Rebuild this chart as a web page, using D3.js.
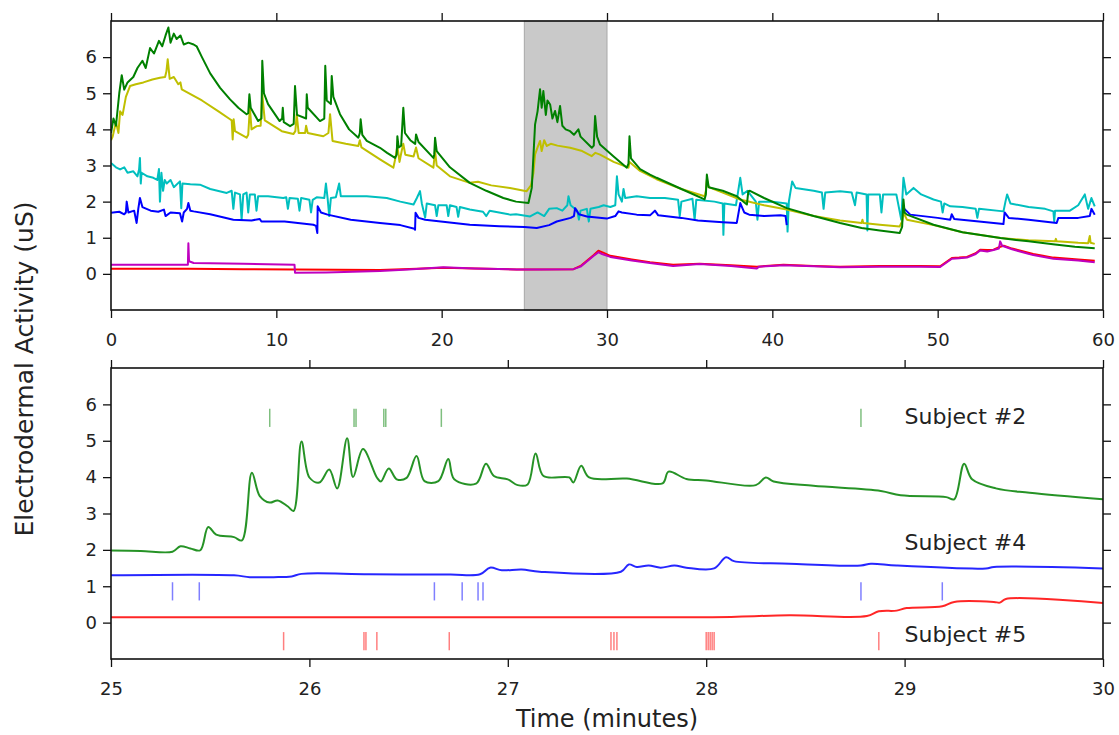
<!DOCTYPE html>
<html>

<head>
    <meta charset="utf-8">
    <title>Electrodermal Activity</title>
    <script src="https://d3js.org/d3.v7.min.js"></script>
    <style>
        body {
            margin: 0;
            background: #fff;
        }

        text {
            font-family: "DejaVu Sans", sans-serif;
            fill: #222;
        }
    </style>
</head>

<body>
    <div id="chart"></div>
    <script>
        // ---- data: [minutes, uS] ----
        const topGreen = [[0.0, 3.9], [0.15, 4.3], [0.3, 4.1], [0.5, 5.0], [0.65, 5.5], [0.8, 5.1], [1.0, 5.3], [1.35, 5.45], [1.6, 5.7], [1.9, 5.9], [2.1, 5.7], [2.36, 6.25], [2.6, 6.1], [2.9, 6.45], [3.1, 6.3], [3.3, 6.6], [3.47, 6.82], [3.6, 6.4], [3.8, 6.65], [3.97, 6.5], [4.2, 6.6], [4.4, 6.35], [4.68, 6.4], [5.0, 6.35], [5.18, 6.3], [5.5, 6.0], [6.0, 5.55], [6.6, 5.15], [7.2, 4.83], [7.7, 4.6], [8.2, 4.42], [8.3, 4.45], [8.37, 4.97], [8.45, 4.6], [8.9, 4.23], [9.1, 4.3], [9.15, 5.9], [9.25, 5.0], [9.5, 4.7], [10.2, 4.23], [10.35, 4.3], [10.39, 4.6], [10.45, 4.2], [10.83, 4.09], [11.05, 4.15], [11.13, 5.2], [11.25, 4.4], [11.8, 4.3], [11.84, 4.97], [11.9, 4.6], [12.64, 4.23], [12.9, 4.3], [12.96, 5.76], [13.05, 4.8], [13.3, 4.7], [13.35, 5.48], [13.45, 4.9], [13.85, 4.42], [14.4, 4.0], [14.96, 3.77], [15.05, 3.9], [15.1, 4.28], [15.2, 3.85], [15.47, 3.68], [16.27, 3.49], [16.7, 3.35], [17.18, 3.21], [17.28, 3.3], [17.32, 3.81], [17.4, 3.5], [17.55, 3.55], [17.68, 4.6], [17.78, 3.9], [18.1, 3.7], [18.4, 3.6], [18.45, 3.86], [18.6, 3.65], [19.5, 3.21], [19.55, 3.3], [19.6, 3.77], [19.7, 3.4], [20.5, 2.95], [21.7, 2.52], [22.7, 2.3], [23.73, 2.1], [24.5, 2.0], [25.25, 1.96], [25.45, 2.38], [25.65, 4.14], [25.8, 4.5], [25.95, 5.11], [26.05, 4.6], [26.15, 5.06], [26.3, 4.4], [26.4, 4.8], [26.56, 4.69], [26.7, 4.3], [26.86, 4.51], [27.0, 4.2], [27.16, 4.65], [27.3, 4.1], [27.5, 4.0], [27.77, 3.95], [28.0, 3.85], [28.27, 4.0], [28.4, 3.8], [29.08, 3.49], [29.2, 3.55], [29.28, 4.37], [29.4, 3.8], [29.58, 3.58], [30.4, 3.25], [31.2, 2.94], [31.3, 3.05], [31.36, 3.81], [31.45, 3.2], [32.0, 2.9], [32.6, 2.75], [33.0, 2.66], [34.5, 2.35], [35.9, 2.06], [35.98, 2.2], [36.04, 2.75], [36.15, 2.4], [37.0, 2.3], [37.85, 2.15], [38.46, 1.92], [38.55, 2.29], [38.65, 2.3], [39.5, 2.1], [40.87, 1.82], [42.5, 1.6], [44.1, 1.41], [45.4, 1.27], [46.5, 1.2], [47.7, 1.13], [47.85, 1.3], [47.93, 2.06], [48.0, 1.7], [48.14, 1.64], [49.75, 1.36], [51.5, 1.15], [53.8, 0.99], [55.5, 0.9], [57.1, 0.81], [58.3, 0.75], [59.5, 0.71]]

        const topYellow = [[0.0, 3.7], [0.1, 3.8], [0.3, 4.2], [0.45, 3.9], [0.55, 4.5], [0.7, 4.4], [0.9, 4.9], [1.15, 5.2], [1.5, 5.25], [1.96, 5.3], [2.5, 5.38], [2.96, 5.43], [3.27, 5.45], [3.35, 5.6], [3.43, 5.94], [3.55, 5.4], [3.8, 5.45], [4.07, 5.25], [4.2, 5.3], [4.28, 5.11], [5.5, 4.8], [6.5, 4.5], [7.2, 4.28], [7.3, 4.25], [7.36, 3.72], [7.42, 4.28], [7.5, 3.95], [8.2, 3.77], [8.3, 3.85], [8.4, 4.6], [8.5, 4.0], [8.81, 4.09], [9.05, 4.1], [9.15, 4.97], [9.3, 4.25], [10.33, 3.95], [11.03, 3.87], [11.15, 3.95], [11.23, 4.42], [11.35, 3.9], [11.74, 3.9], [11.8, 4.1], [11.9, 3.9], [12.84, 3.81], [13.15, 3.9], [13.25, 4.42], [13.4, 3.68], [14.2, 3.6], [14.96, 3.54], [15.05, 3.7], [15.15, 3.5], [16.27, 3.17], [17.08, 2.94], [17.2, 3.2], [17.32, 3.54], [17.45, 3.1], [17.58, 3.4], [17.68, 3.6], [17.8, 3.3], [18.3, 3.25], [18.45, 3.5], [18.6, 3.2], [19.5, 2.94], [19.6, 3.4], [19.7, 3.0], [20.5, 2.7], [21.7, 2.52], [22.2, 2.55], [23.0, 2.45], [24.13, 2.38], [25.14, 2.29], [25.4, 2.45], [25.55, 2.8], [25.65, 3.31], [25.8, 3.5], [25.95, 3.68], [26.05, 3.4], [26.2, 3.7], [26.36, 3.54], [26.6, 3.6], [27.0, 3.55], [27.77, 3.49], [28.5, 3.4], [29.08, 3.26], [29.3, 3.35], [29.58, 3.3], [30.4, 3.1], [31.3, 2.94], [31.36, 3.1], [32.0, 2.85], [33.0, 2.62], [34.5, 2.35], [35.9, 2.15], [35.98, 2.3], [36.04, 2.61], [36.15, 2.4], [37.0, 2.25], [38.05, 2.06], [39.5, 1.9], [40.87, 1.78], [42.5, 1.6], [44.1, 1.48], [45.4, 1.41], [45.45, 1.5], [45.5, 1.41], [46.5, 1.36], [47.7, 1.31], [47.85, 1.45], [47.93, 1.7], [48.14, 1.5], [49.75, 1.35], [51.5, 1.15], [53.8, 0.99], [55.5, 0.93], [57.1, 0.9], [57.15, 0.97], [57.2, 0.9], [58.5, 0.86], [59.1, 0.85], [59.2, 1.05], [59.25, 0.86], [59.5, 0.83]]

        const topCyan = [[0.0, 3.07], [0.3, 2.95], [0.55, 2.89], [0.8, 2.95], [1.0, 2.8], [1.35, 2.84], [1.6, 2.7], [1.7, 2.9], [1.75, 3.21], [1.8, 2.5], [1.85, 2.8], [2.2, 2.7], [2.56, 2.66], [2.8, 2.6], [2.9, 2.9], [2.96, 2.0], [3.05, 2.8], [3.15, 2.3], [3.25, 2.6], [3.37, 2.5], [3.6, 2.6], [3.8, 2.4], [4.17, 2.56], [4.25, 1.82], [4.32, 2.5], [4.8, 2.48], [5.38, 2.47], [6.0, 2.35], [7.0, 2.24], [7.3, 2.3], [7.4, 1.8], [7.5, 2.25], [7.8, 2.2], [7.9, 1.5], [8.0, 2.2], [8.2, 2.25], [8.3, 1.7], [8.4, 2.2], [8.7, 2.2], [8.8, 1.75], [8.9, 2.15], [9.5, 2.15], [10.42, 2.1], [10.6, 2.12], [10.7, 1.8], [10.8, 2.1], [11.3, 2.08], [11.4, 1.75], [11.5, 2.1], [12.0, 2.05], [12.1, 1.7], [12.2, 2.05], [12.44, 2.12], [12.9, 2.1], [13.0, 2.5], [13.1, 2.1], [13.2, 1.6], [13.3, 2.1], [13.6, 2.12], [13.8, 2.5], [13.9, 2.15], [14.5, 2.15], [15.47, 2.15], [16.68, 2.1], [17.5, 2.0], [18.3, 1.92], [18.5, 2.1], [18.69, 2.29], [18.8, 1.95], [19.0, 1.56], [19.1, 1.95], [19.6, 1.9], [19.7, 1.6], [19.8, 1.9], [20.3, 1.9], [20.4, 1.6], [20.5, 1.9], [20.9, 1.85], [21.0, 1.58], [21.1, 1.85], [21.7, 1.78], [22.5, 1.72], [22.7, 1.6], [22.9, 1.75], [24.13, 1.64], [24.5, 1.65], [25.35, 1.59], [25.8, 1.7], [26.2, 1.6], [26.5, 1.8], [26.96, 1.82], [27.3, 1.75], [27.6, 1.9], [27.67, 2.15], [27.8, 1.9], [28.2, 1.75], [28.3, 1.5], [28.4, 1.75], [28.78, 1.8], [28.9, 1.45], [29.0, 1.8], [29.5, 1.85], [29.8, 1.9], [30.2, 1.85], [30.5, 1.9], [30.6, 2.7], [30.7, 2.2], [30.9, 2.0], [31.0, 2.35], [31.1, 2.1], [31.8, 2.15], [32.6, 2.1], [33.5, 2.1], [34.3, 2.05], [34.4, 1.6], [34.5, 2.0], [35.17, 2.08], [35.3, 1.5], [35.4, 2.05], [36.5, 2.0], [37.0, 1.95], [37.04, 1.08], [37.1, 1.95], [37.8, 1.9], [38.06, 2.66], [38.2, 2.2], [38.5, 2.3], [39.0, 2.0], [39.1, 1.5], [39.2, 2.0], [40.0, 2.0], [40.87, 1.95], [40.92, 1.17], [41.0, 2.0], [41.2, 2.56], [41.4, 2.38], [42.5, 2.3], [43.0, 2.25], [43.1, 1.8], [43.2, 2.25], [44.1, 2.29], [44.8, 2.25], [45.0, 1.9], [45.1, 2.25], [45.7, 2.2], [45.75, 1.2], [45.8, 2.2], [46.5, 2.2], [46.6, 1.7], [46.7, 2.2], [47.5, 2.2], [47.8, 1.5], [47.93, 2.66], [48.1, 2.2], [48.54, 2.38], [49.0, 2.2], [49.75, 2.06], [50.2, 2.0], [50.3, 1.7], [50.4, 1.95], [50.76, 1.87], [51.5, 1.85], [52.3, 1.8], [52.4, 1.55], [52.5, 1.8], [53.98, 1.73], [54.1, 2.0], [54.2, 2.2], [54.4, 1.95], [55.5, 1.85], [56.5, 1.8], [57.0, 1.73], [57.05, 1.45], [57.1, 1.75], [58.0, 1.75], [58.5, 1.9], [58.9, 2.2], [59.1, 1.8], [59.3, 2.1], [59.5, 1.87]]

        // null = no samples (gap in the recording)
        const topBlue = [[0.0, 1.69], [0.5, 1.72], [0.8, 1.65], [0.9, 1.7], [0.95, 2.0], [1.05, 1.7], [1.4, 1.75], [1.55, 1.41], [1.65, 1.8], [1.75, 2.1], [1.9, 1.85], [2.4, 1.75], [2.86, 1.72], [3.2, 1.78], [3.3, 1.6], [3.6, 1.7], [4.17, 1.68], [4.3, 1.45], [4.4, 1.7], [4.6, 1.8], [4.68, 1.96], [4.8, 1.75], [5.0, 1.73], [6.0, 1.65], [7.4, 1.5], [8.5, 1.48], [9.0, 1.52], [9.1, 1.45], [10.5, 1.45], [12.24, 1.36], [12.4, 1.33], [12.48, 1.13], [12.5, 1.87], [12.7, 1.7], [13.1, 1.64], [14.5, 1.5], [16.27, 1.41], [17.5, 1.35], [18.35, 1.25], [18.39, 1.22], [18.42, 1.69], [18.6, 1.55], [19.0, 1.5], [21.7, 1.36], [23.5, 1.32], [25.0, 1.3], [25.75, 1.27], [26.5, 1.35], [26.96, 1.45], [27.8, 1.55], [28.0, 1.6], [28.07, 1.82], [28.3, 1.65], [28.78, 1.59], [29.99, 1.53], [30.5, 1.6], [30.7, 1.73], [30.9, 1.7], [31.8, 1.64], [32.6, 1.62], [32.9, 1.75], [33.1, 1.62], [34.5, 1.55], [35.5, 1.48], [37.0, 1.43], [37.85, 1.41], [38.06, 1.96], [38.3, 1.7], [38.6, 1.64], [39.5, 1.6], [40.5, 1.62], [40.8, 1.6], [40.87, 1.35], [40.9, null], [47.9, 1.84], [48.34, 1.64], [50.0, 1.55], [50.76, 1.5], [50.85, 1.65], [51.0, 1.52], [52.5, 1.45], [53.98, 1.38], [54.05, 1.7], [54.3, 1.55], [55.5, 1.5], [57.2, 1.41], [57.3, 1.55], [58.5, 1.55], [59.2, 1.6], [59.3, 1.8], [59.5, 1.64]]

        const topMagenta = [[0.0, 0.25], [2.0, 0.25], [4.65, 0.25], [4.68, 0.85], [4.72, 0.35], [5.0, 0.3], [8.0, 0.28], [11.1, 0.25], [11.13, 0.03], [13.0, 0.04], [16.27, 0.08], [18.0, 0.12], [20.1, 0.18], [22.0, 0.15], [24.54, 0.12], [26.0, 0.12], [27.97, 0.13], [28.4, 0.2], [28.78, 0.34], [29.2, 0.5], [29.48, 0.6], [29.7, 0.55], [30.2, 0.47], [31.5, 0.37], [32.6, 0.3], [34.0, 0.22], [35.6, 0.27], [37.5, 0.22], [39.06, 0.15], [39.2, 0.2], [40.67, 0.24], [42.5, 0.21], [44.1, 0.18], [46.5, 0.2], [48.9, 0.2], [50.15, 0.19], [50.86, 0.42], [51.3, 0.43], [51.77, 0.45], [52.3, 0.55], [52.57, 0.65], [53.0, 0.62], [53.38, 0.66], [53.7, 0.7], [53.78, 0.9], [53.9, 0.78], [54.5, 0.68], [55.78, 0.52], [57.0, 0.42], [58.5, 0.37], [59.5, 0.32]]

        const topRed = [[0.0, 0.14], [4.68, 0.14], [8.0, 0.13], [11.13, 0.12], [16.27, 0.11], [18.5, 0.14], [20.1, 0.17], [22.0, 0.15], [24.54, 0.12], [27.97, 0.13], [28.4, 0.22], [28.78, 0.36], [29.2, 0.52], [29.48, 0.64], [29.8, 0.58], [30.2, 0.5], [31.5, 0.4], [32.6, 0.32], [34.0, 0.25], [35.6, 0.28], [37.5, 0.24], [39.06, 0.2], [40.67, 0.25], [42.5, 0.22], [44.1, 0.2], [46.5, 0.22], [48.9, 0.22], [50.15, 0.21], [50.86, 0.44], [51.3, 0.45], [51.77, 0.47], [52.3, 0.57], [52.57, 0.67], [53.0, 0.66], [53.38, 0.67], [53.78, 0.75], [54.0, 0.78], [54.5, 0.7], [55.78, 0.55], [57.0, 0.45], [58.5, 0.4], [59.5, 0.36]]

        // zoomed window 25..30 min
        const subj2 = [[25.0, 1.98], [25.15, 1.97], [25.31, 1.95], [25.35, 2.1], [25.4, 2.04], [25.45, 1.99], [25.49, 2.63], [25.53, 2.42], [25.62, 2.35], [25.66, 2.26], [25.71, 4.12], [25.75, 3.48], [25.8, 3.3], [25.84, 3.36], [25.89, 3.2], [25.92, 3.07], [25.96, 4.98], [26.0, 3.99], [26.05, 3.85], [26.1, 4.21], [26.14, 3.69], [26.19, 5.07], [26.22, 4.0], [26.27, 4.77], [26.34, 3.99], [26.36, 3.88], [26.4, 4.24], [26.44, 3.94], [26.49, 3.98], [26.54, 4.58], [26.58, 3.89], [26.65, 3.89], [26.7, 4.5], [26.73, 3.94], [26.84, 3.82], [26.89, 4.37], [26.93, 4.03], [27.0, 3.94], [27.05, 3.78], [27.1, 3.8], [27.14, 4.65], [27.18, 4.03], [27.31, 3.99], [27.33, 3.85], [27.37, 4.31], [27.41, 3.99], [27.6, 3.96], [27.78, 3.83], [27.81, 4.15], [27.9, 3.95], [28.0, 3.91], [28.25, 3.78], [28.3, 3.99], [28.34, 3.88], [28.54, 3.76], [28.88, 3.62], [28.98, 3.5], [29.21, 3.45], [29.25, 3.39], [29.3, 4.37], [29.34, 3.94], [29.46, 3.69], [29.63, 3.57], [30.0, 3.39]]
        const subj4 = [[25.0, 1.3], [25.62, 1.3], [25.7, 1.25], [25.82, 1.25], [25.91, 1.27], [25.96, 1.34], [26.3, 1.33], [26.71, 1.32], [26.86, 1.33], [26.91, 1.51], [26.97, 1.44], [27.07, 1.46], [27.16, 1.4], [27.57, 1.4], [27.61, 1.6], [27.65, 1.53], [27.71, 1.57], [27.77, 1.51], [27.84, 1.57], [27.9, 1.51], [28.04, 1.49], [28.1, 1.8], [28.14, 1.69], [28.42, 1.62], [28.78, 1.57], [28.83, 1.62], [28.96, 1.57], [29.41, 1.49], [29.45, 1.53], [30.0, 1.49]]
        const subj5 = [[25.0, 0.15], [26.7, 0.15], [28.03, 0.15], [28.42, 0.2], [28.81, 0.18], [28.87, 0.31], [28.96, 0.33], [29.01, 0.4], [29.19, 0.45], [29.25, 0.57], [29.45, 0.57], [29.48, 0.55], [29.51, 0.65], [30.0, 0.54]]

        // detected responses (minutes)
        const events2 = [25.80, 26.225, 26.235, 26.375, 26.385, 26.665, 28.78]
        const events4 = [25.31, 25.445, 26.63, 26.77, 26.85, 26.875, 28.78, 29.19]
        const events5 = [25.87, 26.275, 26.285, 26.34, 26.705, 27.52, 27.535, 27.55, 28.0, 28.01, 28.02, 28.03, 28.04, 28.87]

        const subjectNames = ["Subject #2", "Subject #4", "Subject #5"]
        const labelY = [5.45, 2.01, -0.52]
        const eventRows = [5.63, 0.86, -0.51]

        const topXTicks = [0, 10, 20, 30, 40, 50, 60]
        const bottomXTicks = [25, 26, 27, 28, 29, 30]
        const yTicks = [0, 1, 2, 3, 4, 5, 6]
        const windowSpan = [25, 30]

        // ---- layout ----
        const W = 1119, H = 735
        const left = 111, right = 1103
        const topPanel = { top: 21, bottom: 310 }
        const botPanel = { top: 368, bottom: 659 }

        const svg = d3.select("#chart").append("svg")
            .attr("width", W)
            .attr("height", H)

        svg.append("rect").attr("width", W).attr("height", H).attr("fill", "#fff")

        const defs = svg.append("defs")
        defs.append("clipPath").attr("id", "clipTop")
            .append("rect").attr("x", left).attr("y", topPanel.top)
            .attr("width", right - left).attr("height", topPanel.bottom - topPanel.top)
        defs.append("clipPath").attr("id", "clipBot")
            .append("rect").attr("x", left).attr("y", botPanel.top)
            .attr("width", right - left).attr("height", botPanel.bottom - botPanel.top)

        const xTop = d3.scaleLinear().domain([0, 60]).range([left, right])
        const yTop = d3.scaleLinear().domain([-1, 7]).range([topPanel.bottom, topPanel.top])
        const xBot = d3.scaleLinear().domain([25, 30]).range([left, right])
        const yBot = d3.scaleLinear().domain([-1, 7]).range([botPanel.bottom, botPanel.top])

        function drawAxes(x, y, panel, xTicks) {
            const tick = 8
            const g = svg.append("g")

            const bottom = d3.axisBottom(x).tickValues(xTicks).tickFormat(d3.format("d"))
                .tickSize(tick).tickSizeOuter(0).tickPadding(15)
            const top = d3.axisTop(x).tickValues(xTicks).tickFormat("")
                .tickSize(tick).tickSizeOuter(0)
            const leftAx = d3.axisLeft(y).tickValues(yTicks).tickFormat(d3.format("d"))
                .tickSize(tick).tickSizeOuter(0).tickPadding(6)
            const rightAx = d3.axisRight(y).tickValues(yTicks).tickFormat("")
                .tickSize(tick).tickSizeOuter(0)

            g.append("g").attr("transform", "translate(0," + panel.bottom + ")").call(bottom)
            g.append("g").attr("transform", "translate(0," + panel.top + ")").call(top)
            g.append("g").attr("transform", "translate(" + left + ",0)").call(leftAx)
            g.append("g").attr("transform", "translate(" + right + ",0)").call(rightAx)

            g.selectAll(".domain").remove()
            g.selectAll(".tick line").attr("stroke", "#111").attr("stroke-width", 1.3)
            g.selectAll(".tick text")
                .attr("fill", "#222")
                .style("font-size", "18px")
                .style("font-family", "'DejaVu Sans', sans-serif")

            // frame
            svg.append("rect")
                .attr("x", left)
                .attr("y", panel.top)
                .attr("width", right - left)
                .attr("height", panel.bottom - panel.top)
                .attr("fill", "none")
                .attr("stroke", "#111")
                .attr("stroke-width", 1.6)
        }

        // ---- top panel ----
        svg.append("rect")
            .attr("x", xTop(windowSpan[0]))
            .attr("y", topPanel.top)
            .attr("width", xTop(windowSpan[1]) - xTop(windowSpan[0]))
            .attr("height", topPanel.bottom - topPanel.top)
            .attr("fill", "#c9c9c9")
            .attr("stroke", "#a8a8a8")
            .attr("stroke-width", 1)

        const lineTop = d3.line()
            .defined(d => d[1] !== null)
            .x(d => xTop(d[0]))
            .y(d => yTop(d[1]))

        const topSeries = [
            { data: topCyan, color: "#00bfbf" },
            { data: topBlue, color: "#0000ff" },
            { data: topYellow, color: "#bfbf00" },
            { data: topGreen, color: "#008000" },
            { data: topRed, color: "#ff0000" },
            { data: topMagenta, color: "#bf00bf" }
        ]

        svg.append("g").attr("clip-path", "url(#clipTop)")
            .selectAll("path")
            .data(topSeries)
            .enter()
            .append("path")
            .attr("d", d => lineTop(d.data))
            .attr("fill", "none")
            .attr("stroke", d => d.color)
            .attr("stroke-width", 2)
            .attr("stroke-linejoin", "round")

        drawAxes(xTop, yTop, topPanel, topXTicks)

        // ---- bottom panel ----
        const lineBot = d3.line()
            .curve(d3.curveCatmullRom.alpha(0.5))
            .x(d => xBot(d[0]))
            .y(d => yBot(d[1]))

        const botSeries = [
            { data: subj2, events: events2, color: "#008000" },
            { data: subj4, events: events4, color: "#0000ff" },
            { data: subj5, events: events5, color: "#ff0000" }
        ]

        const bot = svg.append("g").attr("clip-path", "url(#clipBot)")

        bot.selectAll("path")
            .data(botSeries)
            .enter()
            .append("path")
            .attr("d", d => lineBot(d.data))
            .attr("fill", "none")
            .attr("stroke", d => d.color)
            .attr("stroke-opacity", 0.85)
            .attr("stroke-width", 2)

        botSeries.forEach((s, i) => {
            bot.append("g")
                .selectAll("line")
                .data(s.events)
                .enter()
                .append("line")
                .attr("x1", d => xBot(d))
                .attr("x2", d => xBot(d))
                .attr("y1", yBot(eventRows[i] - 0.25))
                .attr("y2", yBot(eventRows[i] + 0.25))
                .attr("stroke", s.color)
                .attr("stroke-opacity", 0.5)
                .attr("stroke-width", 1.5)

            svg.append("text")
                .attr("x", xBot(29.0))
                .attr("y", yBot(labelY[i]))
                .style("font-size", "22px")
                .text(subjectNames[i])
        })

        drawAxes(xBot, yBot, botPanel, bottomXTicks)

        // ---- axis titles ----
        svg.append("text")
            .attr("x", (left + right) / 2)
            .attr("y", 727)
            .attr("text-anchor", "middle")
            .style("font-size", "24px")
            .text("Time (minutes)")

        svg.append("text")
            .attr("transform", "translate(33,369) rotate(-90)")
            .attr("text-anchor", "middle")
            .style("font-size", "25px")
            .text("Electrodermal Activity (uS)")
    </script>
</body>

</html>
